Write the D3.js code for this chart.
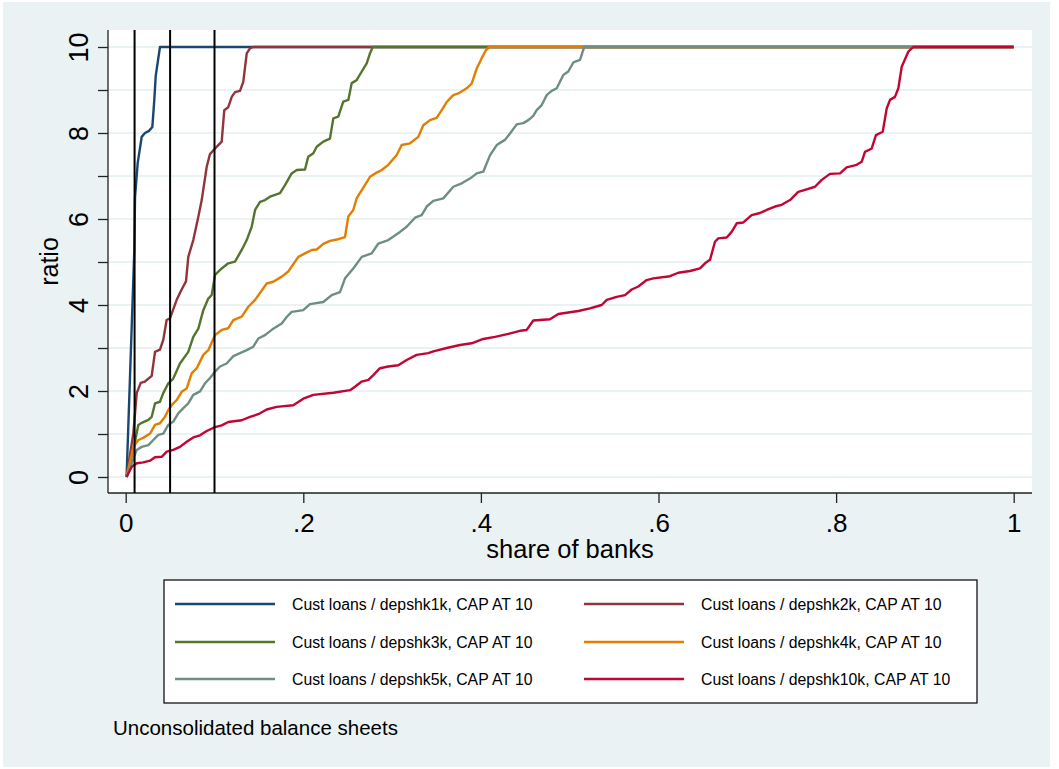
<!DOCTYPE html>
<html>
<head>
<meta charset="utf-8">
<script src="https://cdn.jsdelivr.net/npm/d3@7"></script>
<style>
  html, body { margin: 0; padding: 0; background: #ffffff; }
  svg { display: block; font-family: "Liberation Sans", Arial, sans-serif; }
</style>
</head>
<body>
<svg id="chart" width="1059" height="769"></svg>
<script>
// Share of banks (x) vs. loans-to-deposit-shock ratio (y), capped at 10.
const shk1k = [
  [0.001, 0.0], [0.0097, 5.28], [0.0105, 6.51], [0.0135, 7.30], [0.018, 7.91],
  [0.0217, 8.0], [0.0262, 8.05], [0.030, 8.14], [0.0322, 8.77], [0.0338, 9.33],
  [0.0386, 10.0], [1.0, 10.0]
];
const shk2k = [
  [0.001, 0.0], [0.0086, 1.02], [0.0124, 1.95], [0.0169, 2.19], [0.0217, 2.22],
  [0.0293, 2.35], [0.033, 2.91], [0.0386, 2.96], [0.0423, 3.19], [0.0461, 3.65],
  [0.0499, 3.69], [0.0574, 4.12], [0.063, 4.36], [0.0679, 4.55], [0.0705, 5.12],
  [0.0761, 5.51], [0.0818, 6.05], [0.0856, 6.44], [0.0912, 7.21], [0.0949, 7.51],
  [0.1006, 7.64], [0.1062, 7.76], [0.1081, 7.80], [0.111, 8.53], [0.1155, 8.60],
  [0.1194, 8.84], [0.1231, 8.95], [0.1287, 8.98], [0.1324, 9.19], [0.1363, 9.85],
  [0.14, 9.97], [0.1437, 10.0], [1.0, 10.0]
];
const shk3k = [
  [0.001, 0.0], [0.0086, 0.63], [0.0142, 1.21], [0.018, 1.26], [0.0255, 1.33],
  [0.0293, 1.40], [0.033, 1.71], [0.0386, 1.75], [0.0423, 1.95], [0.048, 2.18],
  [0.0536, 2.29], [0.0611, 2.64], [0.0705, 2.91], [0.0761, 3.26], [0.0818, 3.45],
  [0.0874, 3.88], [0.093, 4.15], [0.0968, 4.23], [0.1006, 4.70], [0.1081, 4.85],
  [0.1155, 4.97], [0.1231, 5.01], [0.1306, 5.28], [0.1363, 5.51], [0.1419, 5.82],
  [0.1457, 6.21], [0.1513, 6.40], [0.1569, 6.44], [0.1625, 6.52], [0.1738, 6.60],
  [0.1794, 6.79], [0.1869, 7.06], [0.1926, 7.14], [0.2019, 7.15], [0.2056, 7.45],
  [0.2113, 7.53], [0.2151, 7.68], [0.2225, 7.80], [0.23, 7.87], [0.2338, 8.34],
  [0.2394, 8.38], [0.245, 8.73], [0.2507, 8.77], [0.2545, 9.16], [0.2601, 9.23],
  [0.2658, 9.43], [0.2714, 9.62], [0.2751, 9.85], [0.2782, 10.0], [1.0, 10.0]
];
const shk4k = [
  [0.001, 0.0], [0.0086, 0.70], [0.0142, 0.86], [0.0198, 0.91], [0.0274, 1.01],
  [0.033, 1.21], [0.0386, 1.25], [0.0443, 1.40], [0.048, 1.56], [0.0518, 1.67],
  [0.0574, 1.79], [0.063, 1.98], [0.0687, 2.06], [0.0743, 2.41], [0.08, 2.53],
  [0.0874, 2.84], [0.093, 2.95], [0.1006, 3.30], [0.1081, 3.42], [0.1155, 3.46],
  [0.1212, 3.65], [0.1306, 3.73], [0.1381, 3.96], [0.1457, 4.12], [0.155, 4.39],
  [0.1588, 4.50], [0.1662, 4.54], [0.1757, 4.66], [0.1831, 4.78], [0.1944, 5.12],
  [0.2019, 5.20], [0.2095, 5.28], [0.2151, 5.29], [0.2225, 5.42], [0.23, 5.49],
  [0.2394, 5.53], [0.247, 5.58], [0.2507, 6.06], [0.2563, 6.21], [0.2601, 6.48],
  [0.2751, 6.98], [0.2827, 7.08], [0.2883, 7.14], [0.2957, 7.26], [0.3052, 7.49],
  [0.3108, 7.72], [0.3202, 7.76], [0.3295, 7.91], [0.3351, 8.18], [0.3427, 8.30],
  [0.3502, 8.35], [0.3559, 8.53], [0.3615, 8.72], [0.3689, 8.88], [0.3745, 8.92],
  [0.384, 9.04], [0.3896, 9.15], [0.3953, 9.50], [0.4009, 9.74], [0.4057, 9.93],
  [0.4095, 10.0], [1.0, 10.0]
];
const shk5k = [
  [0.001, 0.0], [0.0124, 0.63], [0.018, 0.70], [0.0255, 0.74], [0.0311, 0.86],
  [0.0367, 0.98], [0.0423, 1.01], [0.048, 1.21], [0.0536, 1.29], [0.0592, 1.48],
  [0.0649, 1.60], [0.0705, 1.71], [0.0761, 1.91], [0.0837, 1.99], [0.0893, 2.18],
  [0.0949, 2.30], [0.1006, 2.45], [0.1062, 2.57], [0.1137, 2.64], [0.1212, 2.81],
  [0.1287, 2.88], [0.1363, 2.95], [0.1437, 3.03], [0.1493, 3.22], [0.1569, 3.30],
  [0.1662, 3.45], [0.1757, 3.57], [0.1813, 3.72], [0.1869, 3.84], [0.2, 3.88],
  [0.2075, 4.02], [0.2225, 4.07], [0.232, 4.23], [0.2413, 4.30], [0.247, 4.62],
  [0.2563, 4.85], [0.2658, 5.12], [0.277, 5.20], [0.2845, 5.43], [0.2957, 5.51],
  [0.3089, 5.70], [0.3164, 5.82], [0.3258, 6.03], [0.3333, 6.09], [0.339, 6.29],
  [0.3464, 6.42], [0.3577, 6.48], [0.3689, 6.75], [0.3784, 6.83], [0.3877, 6.94],
  [0.3953, 7.06], [0.4027, 7.10], [0.4102, 7.48], [0.4178, 7.72], [0.4271, 7.84],
  [0.4328, 7.99], [0.4403, 8.20], [0.4477, 8.23], [0.4534, 8.30], [0.459, 8.40],
  [0.4628, 8.53], [0.4685, 8.65], [0.4741, 8.88], [0.4797, 8.98], [0.4854, 9.04],
  [0.4928, 9.35], [0.4984, 9.43], [0.5041, 9.64], [0.5116, 9.70], [0.5146, 9.89],
  [0.5164, 10.0], [1.0, 10.0]
];
const shk10k = [
  [0.001, 0.0], [0.0068, 0.24], [0.0124, 0.32], [0.0198, 0.34], [0.0274, 0.38],
  [0.033, 0.46], [0.0405, 0.47], [0.0462, 0.59], [0.0536, 0.63], [0.0611, 0.70],
  [0.0687, 0.82], [0.0761, 0.92], [0.0837, 0.97], [0.0912, 1.07], [0.1006, 1.16],
  [0.1081, 1.20], [0.1155, 1.28], [0.1306, 1.32], [0.14, 1.40], [0.1493, 1.46],
  [0.1588, 1.57], [0.17, 1.63], [0.1887, 1.67], [0.2, 1.82], [0.2113, 1.91],
  [0.2338, 1.96], [0.2526, 2.02], [0.2582, 2.10], [0.2658, 2.22], [0.2733, 2.26],
  [0.2788, 2.37], [0.2864, 2.53], [0.2957, 2.57], [0.307, 2.60], [0.3164, 2.72],
  [0.3277, 2.84], [0.3408, 2.88], [0.3464, 2.92], [0.3615, 3.00], [0.3765, 3.07],
  [0.3896, 3.11], [0.4027, 3.21], [0.4159, 3.26], [0.4309, 3.33], [0.444, 3.40],
  [0.4516, 3.42], [0.459, 3.64], [0.4778, 3.67], [0.4872, 3.79], [0.4966, 3.82],
  [0.5097, 3.86], [0.5228, 3.92], [0.536, 4.00], [0.5417, 4.12], [0.5529, 4.19],
  [0.5623, 4.23], [0.5698, 4.36], [0.5773, 4.43], [0.5867, 4.58], [0.5942, 4.62],
  [0.613, 4.67], [0.6223, 4.75], [0.6355, 4.79], [0.6467, 4.85], [0.6524, 4.97],
  [0.658, 5.05], [0.6636, 5.47], [0.6673, 5.55], [0.6768, 5.57], [0.6824, 5.70],
  [0.6881, 5.90], [0.6955, 5.92], [0.7049, 6.09], [0.7143, 6.14], [0.7218, 6.21],
  [0.7312, 6.29], [0.7387, 6.33], [0.7481, 6.44], [0.7574, 6.63], [0.7669, 6.69],
  [0.7762, 6.75], [0.7838, 6.91], [0.7931, 7.05], [0.8044, 7.06], [0.8119, 7.20],
  [0.8232, 7.26], [0.8288, 7.33], [0.8325, 7.56], [0.8401, 7.64], [0.8449, 7.95],
  [0.8525, 8.03], [0.857, 8.57], [0.8607, 8.77], [0.8663, 8.84], [0.8701, 9.04],
  [0.8739, 9.54], [0.8813, 9.89], [0.8869, 10.0], [1.0, 10.0]
];

const seriesLabels = [
  "Cust loans / depshk1k, CAP AT 10",
  "Cust loans / depshk2k, CAP AT 10",
  "Cust loans / depshk3k, CAP AT 10",
  "Cust loans / depshk4k, CAP AT 10",
  "Cust loans / depshk5k, CAP AT 10",
  "Cust loans / depshk10k, CAP AT 10"
];
const seriesColors = ["#1a476f", "#90353b", "#55752f", "#e37e00", "#6e8e84", "#c10534"];
const seriesData = [shk1k, shk2k, shk3k, shk4k, shk5k, shk10k];

const xTicks = [0, 0.2, 0.4, 0.6, 0.8, 1];
const xTickLabels = ["0", ".2", ".4", ".6", ".8", "1"];
const yTicks = [0, 2, 4, 6, 8, 10];
const yMinorTicks = [1, 3, 5, 7, 9];
const cutoffs = [0.01, 0.05, 0.10];

const xTitle = "share of banks";
const yTitle = "ratio";
const note = "Unconsolidated balance sheets";

// ---- layout ----
const svg = d3.select("#chart");
const plot = { left: 108, right: 1032, top: 30, bottom: 493 };
const bg = "#eaf2f3";
const axisColor = "#222";

svg.append("rect").attr("x", 3).attr("y", 2).attr("width", 1047).attr("height", 765).attr("fill", bg);
svg.append("rect")
  .attr("x", plot.left).attr("y", plot.top)
  .attr("width", plot.right - plot.left).attr("height", plot.bottom - plot.top)
  .attr("fill", "#ffffff");

const x = d3.scaleLinear().domain([0, 1]).range([125.7, 1013.7]);
const y = d3.scaleLinear().domain([0, 10]).range([477, 47]);

// grid lines at every unit
const gridVals = d3.range(0, 11);
svg.append("g").selectAll("line").data(gridVals).join("line")
  .attr("x1", plot.left).attr("x2", plot.right)
  .attr("y1", d => y(d)).attr("y2", d => y(d))
  .attr("stroke", bg).attr("stroke-width", 2);

// y axis: labelled even ticks, unlabelled odd ticks; labels read bottom-to-top
const yAxis = d3.axisLeft(y).tickValues(yTicks).tickSize(10).tickFormat(d3.format("d"));
const gy = svg.append("g").attr("transform", `translate(${plot.left},0)`).call(yAxis);
gy.select(".domain").attr("d", `M0,${plot.top}V${plot.bottom}`).attr("stroke", axisColor).attr("stroke-width", 1.3);
gy.selectAll(".tick line").attr("stroke", axisColor).attr("stroke-width", 1.3);
gy.selectAll(".tick text")
  .attr("font-size", 27).attr("fill", "#000")
  .attr("text-anchor", "middle")
  .attr("x", 0).attr("y", 0).attr("dy", 0)
  .attr("transform", "translate(-20,0) rotate(-90)");
const yMinor = d3.axisLeft(y).tickValues(yMinorTicks).tickSize(10).tickFormat("");
const gym = svg.append("g").attr("transform", `translate(${plot.left},0)`).call(yMinor);
gym.select(".domain").remove();
gym.selectAll(".tick line").attr("stroke", axisColor).attr("stroke-width", 1.3);

// x axis
const xAxis = d3.axisBottom(x).tickValues(xTicks).tickSize(10).tickPadding(10)
  .tickFormat((d, i) => xTickLabels[i]);
const gx = svg.append("g").attr("transform", `translate(0,${plot.bottom})`).call(xAxis);
gx.select(".domain").attr("d", `M${plot.left},0H${plot.right}`).attr("stroke", axisColor).attr("stroke-width", 1.3);
gx.selectAll(".tick line").attr("stroke", axisColor).attr("stroke-width", 1.3);
gx.selectAll(".tick text").attr("font-size", 26).attr("fill", "#000").attr("dy", "0.72em");

// axis titles
svg.append("text").attr("x", (plot.left + plot.right) / 2).attr("y", 558)
  .attr("text-anchor", "middle").attr("font-size", 25.5).attr("fill", "#000").text(xTitle);
svg.append("text").attr("transform", `translate(58,${(plot.top + plot.bottom) / 2}) rotate(-90)`)
  .attr("text-anchor", "middle").attr("font-size", 25).attr("fill", "#000").text(yTitle);

// series lines, later series drawn on top
const line = d3.line().x(d => x(d[0])).y(d => y(d[1]));
svg.append("g").selectAll("path").data(seriesData).join("path")
  .attr("d", d => line(d))
  .attr("fill", "none")
  .attr("stroke", (d, i) => seriesColors[i])
  .attr("stroke-width", 2.4)
  .attr("stroke-linejoin", "round");

// reference lines at the cut-off shares
svg.append("g").selectAll("line").data(cutoffs).join("line")
  .attr("x1", d => x(d)).attr("x2", d => x(d))
  .attr("y1", plot.top).attr("y2", plot.bottom)
  .attr("stroke", "#000").attr("stroke-width", 2);

// legend
const lg = { x: 164, y: 580, w: 813, h: 123 };
svg.append("rect").attr("x", lg.x).attr("y", lg.y).attr("width", lg.w).attr("height", lg.h)
  .attr("fill", "#fff").attr("stroke", "#000").attr("stroke-width", 1.2);
const rowY = [604, 642, 679];
const colX = [175, 584];
const items = seriesLabels.map((label, i) => ({ label, color: seriesColors[i], col: i % 2, row: Math.floor(i / 2) }));
const li = svg.append("g").selectAll("g").data(items).join("g")
  .attr("transform", d => `translate(${colX[d.col]},${rowY[d.row]})`);
li.append("line").attr("x1", 0).attr("x2", 100).attr("y1", 0).attr("y2", 0)
  .attr("stroke", d => d.color).attr("stroke-width", 2.4);
li.append("text").attr("x", 117).attr("y", 0).attr("dy", "0.35em")
  .attr("font-size", 15.8).attr("fill", "#000").text(d => d.label);

// note
svg.append("text").attr("x", 113).attr("y", 735).attr("font-size", 20.5).attr("fill", "#000").text(note);
</script>
</body>
</html>
